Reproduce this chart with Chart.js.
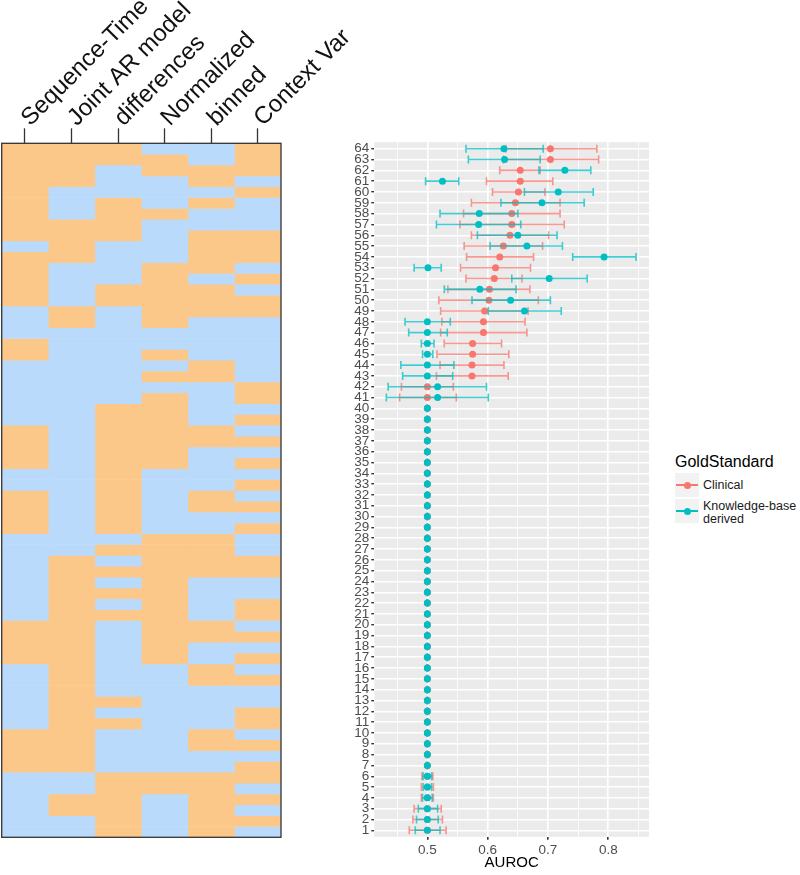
<!DOCTYPE html>
<html>
<head>
<meta charset="utf-8">
<script src="https://cdn.jsdelivr.net/npm/chart.js@4.4.1/dist/chart.umd.min.js"></script>
<style>
  html, body { margin: 0; padding: 0; background: #fff; }
  body { width: 800px; height: 875px; position: relative; overflow: hidden; font-family: "Liberation Sans", Arial, sans-serif; }
  #heat { position: absolute; left: 0; top: 0; }
  #dots { position: absolute; left: 320px; top: 120px; }
  .legend { position: absolute; left: 675px; top: 452px; color: #000; }
  .legend .title { font-size: 16px; line-height: 20px; margin-bottom: 1px; }
  .legend .item { position: relative; height: 24px; margin-bottom: 2px; }
  .legend .key { position: absolute; left: 0; top: 0; width: 24px; height: 24px; background: #f2f2f2; }
  .legend .key i { position: absolute; left: 1px; right: 1px; top: 11px; height: 1.6px; }
  .legend .key b { position: absolute; left: 8.5px; top: 8.5px; width: 7px; height: 7px; border-radius: 50%; }
  .legend .lbl { position: absolute; left: 28px; top: 6px; font-size: 12.5px; line-height: 13px; color: #1a1a1a; white-space: nowrap; }
</style>
</head>
<body>
<canvas id="heat" width="370" height="845"></canvas>
<canvas id="dots" width="340" height="755"></canvas>

<div class="legend">
  <div class="title">GoldStandard</div>
  <div class="item">
    <div class="key"><i style="background:#F8766D"></i><b style="background:#F8766D"></b></div>
    <div class="lbl">Clinical</div>
  </div>
  <div class="item">
    <div class="key"><i style="background:#00BFC4"></i><b style="background:#00BFC4"></b></div>
    <div class="lbl" style="top:1px">Knowledge-base<br>derived</div>
  </div>
</div>

<script>
// ========================== DATA ==========================
// run number, bottom (1) to top (64)
const runs = [
  1, 2, 3, 4, 5, 6, 7, 8, 9, 10, 11, 12, 13, 14, 15, 16,
  17, 18, 19, 20, 21, 22, 23, 24, 25, 26, 27, 28, 29, 30, 31, 32,
  33, 34, 35, 36, 37, 38, 39, 40, 41, 42, 43, 44, 45, 46, 47, 48,
  49, 50, 51, 52, 53, 54, 55, 56, 57, 58, 59, 60, 61, 62, 63, 64
];

const settingNames = ["Sequence-Time", "Joint AR model", "differences", "Normalized", "binned", "Context Var"];

// heatmap: 1 = on (orange), 0 = off (blue), per run 1..64
const seqTime = [0,0,0,0,0,0,1,1,1,1, 0,0,0,0,0,0,1,1,1,1, 0,0,0,0,0,0,0,0,1,1, 1,1,0,0,1,1,1,1,0,0, 0,0,0,0,1,1,0,0,0,1, 1,1,1,1,0,1,1,1,1,1, 1,1,1,1];
const jointAR = [0,0,1,1,0,0,1,1,1,1, 1,1,1,1,1,1,1,1,1,1, 1,1,1,1,1,1,0,0,0,0, 0,0,0,0,0,0,0,0,0,0, 0,0,0,0,0,0,0,1,1,0, 0,0,0,1,1,1,1,0,0,0, 1,1,1,1];
const differences = [1,1,1,1,1,1,0,0,0,0, 1,0,1,0,0,0,0,0,0,0, 1,0,1,0,1,0,1,0,1,1, 1,1,1,1,1,1,1,1,1,1, 0,0,0,0,0,0,0,0,0,1, 1,0,0,0,0,1,1,1,1,0, 0,0,1,1];
const normalized = [0,0,0,0,1,1,0,0,0,0, 0,0,0,0,0,0,1,1,1,1, 1,1,1,1,1,1,1,1,0,0, 0,0,0,0,1,1,1,1,1,1, 1,0,1,0,1,0,0,1,1,1, 1,1,1,0,0,0,0,1,0,0, 0,1,1,0];
const binned = [1,1,1,1,1,1,0,0,1,1, 0,0,0,0,1,1,0,0,1,1, 0,0,0,0,1,1,1,1,0,0, 1,1,0,0,0,0,1,1,0,0, 0,0,1,1,0,0,0,0,1,1, 1,0,1,1,1,1,0,0,1,0, 1,1,0,0];
const contextVar = [0,1,0,1,0,1,1,0,1,0, 1,1,0,0,1,0,1,0,1,0, 1,1,0,0,1,1,0,0,1,0, 1,0,1,0,1,0,1,0,1,0, 1,1,0,0,0,0,0,0,1,1, 0,1,0,1,1,1,0,0,0,1, 0,1,1,1];

// AUROC, Clinical gold standard (point, lower, upper), runs 1..64
const clinicalAuc = [
  0.5, 0.5, 0.5, 0.5, 0.5, 0.5, 0.5, 0.5, 0.5, 0.5,
  0.5, 0.5, 0.5, 0.5, 0.5, 0.5, 0.5, 0.5, 0.5, 0.5,
  0.5, 0.5, 0.5, 0.5, 0.5, 0.5, 0.5, 0.5, 0.5, 0.5,
  0.5, 0.5, 0.5, 0.5, 0.5, 0.5, 0.5, 0.5, 0.5, 0.5,
  0.5, 0.5, 0.574, 0.574, 0.575, 0.575, 0.593, 0.593, 0.595, 0.602,
  0.603, 0.611, 0.613, 0.620, 0.626, 0.637, 0.640, 0.640, 0.646, 0.651,
  0.654, 0.654, 0.704, 0.704
];
const clinicalLo = [
  0.470, 0.476, 0.478, 0.490, 0.490, 0.491, 0.5, 0.5, 0.5, 0.5,
  0.5, 0.5, 0.5, 0.5, 0.5, 0.5, 0.5, 0.5, 0.5, 0.5,
  0.5, 0.5, 0.5, 0.5, 0.5, 0.5, 0.5, 0.5, 0.5, 0.5,
  0.5, 0.5, 0.5, 0.5, 0.5, 0.5, 0.5, 0.5, 0.5, 0.5,
  0.454, 0.457, 0.515, 0.521, 0.516, 0.528, 0.522, 0.524, 0.522, 0.519,
  0.534, 0.564, 0.555, 0.565, 0.561, 0.573, 0.554, 0.560, 0.573, 0.608,
  0.598, 0.620, 0.626, 0.630
];
const clinicalHi = [
  0.531, 0.525, 0.523, 0.510, 0.510, 0.509, 0.5, 0.5, 0.5, 0.5,
  0.5, 0.5, 0.5, 0.5, 0.5, 0.5, 0.5, 0.5, 0.5, 0.5,
  0.5, 0.5, 0.5, 0.5, 0.5, 0.5, 0.5, 0.5, 0.5, 0.5,
  0.5, 0.5, 0.5, 0.5, 0.5, 0.5, 0.5, 0.5, 0.5, 0.5,
  0.548, 0.543, 0.634, 0.627, 0.635, 0.623, 0.665, 0.662, 0.667, 0.684,
  0.670, 0.657, 0.671, 0.676, 0.691, 0.701, 0.727, 0.720, 0.720, 0.695,
  0.708, 0.687, 0.784, 0.781
];

// AUROC, Knowledge-base derived gold standard
const kbAuc = [
  0.5, 0.5, 0.5, 0.5, 0.5, 0.5, 0.5, 0.5, 0.5, 0.5,
  0.5, 0.5, 0.5, 0.5, 0.5, 0.5, 0.5, 0.5, 0.5, 0.5,
  0.5, 0.5, 0.5, 0.5, 0.5, 0.5, 0.5, 0.5, 0.5, 0.5,
  0.5, 0.5, 0.5, 0.5, 0.5, 0.5, 0.5, 0.5, 0.5, 0.5,
  0.517, 0.517, 0.5, 0.5, 0.5, 0.5, 0.5, 0.5, 0.661, 0.638,
  0.587, 0.702, 0.501, 0.793, 0.665, 0.650, 0.585, 0.586, 0.690, 0.717,
  0.525, 0.728, 0.628, 0.627
];
const kbLo = [
  0.480, 0.482, 0.485, 0.492, 0.493, 0.493, 0.5, 0.5, 0.5, 0.5,
  0.5, 0.5, 0.5, 0.5, 0.5, 0.5, 0.5, 0.5, 0.5, 0.5,
  0.5, 0.5, 0.5, 0.5, 0.5, 0.5, 0.5, 0.5, 0.5, 0.5,
  0.5, 0.5, 0.5, 0.5, 0.5, 0.5, 0.5, 0.5, 0.5, 0.5,
  0.432, 0.435, 0.459, 0.456, 0.492, 0.490, 0.469, 0.463, 0.601, 0.574,
  0.528, 0.640, 0.478, 0.741, 0.604, 0.583, 0.515, 0.521, 0.622, 0.661,
  0.497, 0.685, 0.568, 0.564
];
const kbHi = [
  0.521, 0.518, 0.517, 0.508, 0.507, 0.507, 0.5, 0.5, 0.5, 0.5,
  0.5, 0.5, 0.5, 0.5, 0.5, 0.5, 0.5, 0.5, 0.5, 0.5,
  0.5, 0.5, 0.5, 0.5, 0.5, 0.5, 0.5, 0.5, 0.5, 0.5,
  0.5, 0.5, 0.5, 0.5, 0.5, 0.5, 0.5, 0.5, 0.5, 0.5,
  0.601, 0.598, 0.542, 0.544, 0.509, 0.511, 0.533, 0.538, 0.722, 0.704,
  0.647, 0.765, 0.523, 0.846, 0.724, 0.715, 0.655, 0.650, 0.760, 0.775,
  0.552, 0.771, 0.687, 0.692
];

// x axis grid positions (major every 0.1, minor in between)
const aurocTicks = [0.45, 0.5, 0.55, 0.6, 0.65, 0.7, 0.75, 0.8, 0.85];

// ========================== COLORS ==========================
const ON_COLOR = "#FCC88A";
const OFF_COLOR = "#BADAFB";
const RED = "#F8766D";
const TEAL = "#00BFC4";
const FONT = "'Liberation Sans', Arial, sans-serif";

// ========================== HEATMAP ==========================
const heatColumns = [seqTime, jointAR, differences, normalized, binned, contextVar];

const framePlugin = {
  id: "frame",
  afterDraw(chart) {
    const { ctx, chartArea: a } = chart;
    ctx.save();
    ctx.strokeStyle = "#333";
    ctx.lineWidth = 1.3;
    ctx.strokeRect(a.left, a.top, a.right - a.left, a.bottom - a.top);
    ctx.restore();
  }
};

new Chart(document.getElementById("heat"), {
  type: "bar",
  data: {
    labels: runs.map(String),
    datasets: heatColumns.map((col, i) => ({
      label: settingNames[i],
      data: runs.map(() => 1),   // every cell one unit wide
      backgroundColor: col.map(v => v ? ON_COLOR : OFF_COLOR),
      borderWidth: 0,
      barPercentage: 1,
      categoryPercentage: 1
    }))
  },
  options: {
    indexAxis: "y",
    responsive: false,
    animation: false,
    layout: { padding: { left: 1.7, right: 89, top: 0, bottom: 7.7 } },
    plugins: { legend: { display: false }, tooltip: { enabled: false } },
    scales: {
      y: { type: "category", stacked: true, reverse: true, display: false },
      x: {
        type: "linear",
        position: "top",
        stacked: true,
        min: 0,
        max: 6,
        afterBuildTicks: axis => { axis.ticks = settingNames.map((n, i) => ({ value: i + 0.5 })); },
        afterFit: axis => {
          axis.height = 143.3;
          axis.paddingLeft = 0;
          axis.paddingRight = 0;
        },
        border: { display: false },
        grid: { drawOnChartArea: false, drawTicks: true, tickLength: 15, tickColor: "#333", tickWidth: 1.3 },
        ticks: {
          autoSkip: false,
          minRotation: 45,
          maxRotation: 45,
          padding: -4,
          labelOffset: 21,
          color: "#111",
          font: { family: FONT, size: 24 },
          callback: (v, i) => settingNames[i]
        }
      }
    }
  },
  plugins: [framePlugin]
});

// ========================== AUROC DOT PLOT ==========================
const panelBg = {
  id: "panelBg",
  beforeDraw(chart) {
    const { ctx, chartArea: a } = chart;
    ctx.save();
    ctx.fillStyle = "#EBEBEB";
    ctx.fillRect(a.left, a.top, a.right - a.left, a.bottom - a.top);
    ctx.restore();
  }
};

// horizontal error bars, drawn under each dataset's points from its lo/hi arrays
const errorBars = {
  id: "errorBars",
  beforeDatasetDraw(chart, args) {
    const ds = chart.data.datasets[args.index];
    const { ctx, scales: { x, y } } = chart;
    ctx.save();
    ctx.lineWidth = 1.6;
    ctx.globalAlpha = 0.75;
    ctx.strokeStyle = ds.borderColor;
    runs.forEach((run, i) => {
      const py = y.getPixelForValue(run);
      const x0 = x.getPixelForValue(ds.errLo[i]);
      const x1 = x.getPixelForValue(ds.errHi[i]);
      ctx.beginPath();
      ctx.moveTo(x0, py); ctx.lineTo(x1, py);
      ctx.moveTo(x0, py - 4); ctx.lineTo(x0, py + 4);
      ctx.moveTo(x1, py - 4); ctx.lineTo(x1, py + 4);
      ctx.stroke();
    });
    ctx.restore();
  }
};

const isMajor = v => Math.round(v * 100) % 10 === 0;

new Chart(document.getElementById("dots"), {
  type: "scatter",
  data: {
    datasets: [
      {
        label: "Clinical",
        order: 2,
        data: runs.map((r, i) => ({ x: clinicalAuc[i], y: r })),
        errLo: clinicalLo,
        errHi: clinicalHi,
        backgroundColor: RED,
        borderColor: RED,
        pointRadius: 3.5,
        pointBorderWidth: 0
      },
      {
        label: "Knowledge-base derived",
        order: 1,
        data: runs.map((r, i) => ({ x: kbAuc[i], y: r })),
        errLo: kbLo,
        errHi: kbHi,
        backgroundColor: TEAL,
        borderColor: TEAL,
        pointRadius: 3.5,
        pointBorderWidth: 0
      }
    ]
  },
  options: {
    responsive: false,
    animation: false,
    layout: { padding: { left: 0, right: 11, top: 22.2, bottom: 0 } },
    plugins: { legend: { display: false }, tooltip: { enabled: false } },
    scales: {
      x: {
        type: "linear",
        min: 0.412,
        max: 0.8675,
        afterBuildTicks: axis => { axis.ticks = aurocTicks.map(v => ({ value: v })); },
        afterFit: axis => { axis.height = 38.2; },
        border: { display: false },
        grid: {
          color: "#fff",
          lineWidth: c => (c.tick && isMajor(c.tick.value)) ? 1.6 : 0.8,
          tickColor: c => (c.tick && isMajor(c.tick.value)) ? "#333" : "rgba(0,0,0,0)",
          tickLength: 3
        },
        ticks: {
          autoSkip: false,
          maxRotation: 0,
          padding: 2,
          color: "#4d4d4d",
          font: { family: FONT, size: 13.5 },
          callback: v => isMajor(v) ? v.toFixed(1) : ""
        },
        title: {
          display: true,
          text: "AUROC",
          color: "#000",
          font: { family: FONT, size: 15 },
          padding: { top: 0, bottom: 3 }
        }
      },
      y: {
        type: "linear",
        min: 0.4,
        max: 64.6,
        afterBuildTicks: axis => { axis.ticks = runs.map(v => ({ value: v })); },
        afterFit: axis => { axis.width = 54.3; },
        border: { display: false },
        grid: { color: "#fff", lineWidth: 1.4, tickColor: "#333", tickLength: 3 },
        ticks: {
          autoSkip: false,
          padding: 2,
          color: "#4d4d4d",
          font: { family: FONT, size: 13.5, lineHeight: 1 },
          callback: v => String(v)
        }
      }
    }
  },
  plugins: [panelBg, errorBars]
});
</script>
</body>
</html>
